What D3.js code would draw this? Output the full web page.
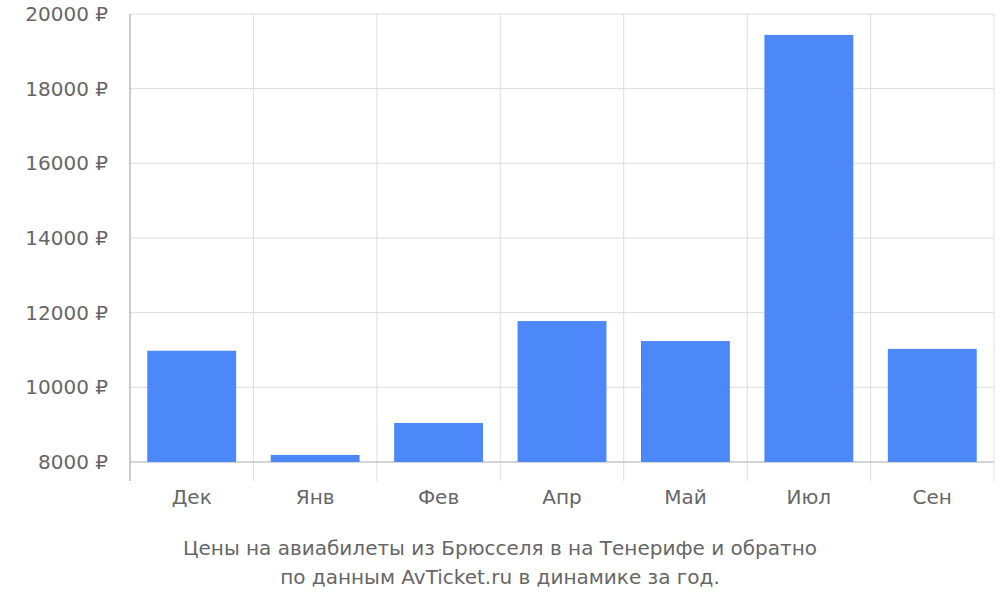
<!DOCTYPE html>
<meta charset="utf-8">
<script src="https://d3js.org/d3.v7.min.js"></script>
<style>body{margin:0;background:#fff}</style>
<svg id="chart" width="1000" height="600"></svg>
<script>
var months = ["Дек", "Янв", "Фев", "Апр", "Май", "Июл", "Сен"]
var prices = [10980, 8190, 9045, 11775, 11240, 19440, 11030]
var yTicks = [8000, 10000, 12000, 14000, 16000, 18000, 20000]
var title = ["Цены на авиабилеты из Брюсселя в на Тенерифе и обратно",
             "по данным AvTicket.ru в динамике за год."]

var svg = d3.select("#chart")
var font = "DejaVu Sans, sans-serif"

var x = d3.scaleBand().domain(months).range([130, 994]).paddingInner(0.28).paddingOuter(0.14)
var y = d3.scaleLinear().domain([8000, 20000]).range([462, 14])
var step = x.step()

// horizontal grid
svg.selectAll(".hg").data(yTicks).enter().append("line")
  .attr("x1", 130).attr("x2", 994)
  .attr("y1", d => y(d)).attr("y2", d => y(d))
  .attr("stroke", "#ddd")

// vertical grid at band boundaries
var bounds = d3.range(months.length + 1).map(i => 130 + i * step)
svg.selectAll(".vg").data(bounds).enter().append("line")
  .attr("x1", d => d).attr("x2", d => d)
  .attr("y1", 14).attr("y2", 481)
  .attr("stroke", (d, i) => i == 0 ? "#999" : "#ddd")

svg.append("line").attr("x1", 130).attr("x2", 994).attr("y1", 462).attr("y2", 462).attr("stroke", "#bbb")

svg.selectAll(".bar").data(months).enter().append("rect")
  .attr("x", d => x(d)).attr("width", x.bandwidth())
  .attr("y", (d, i) => y(prices[i]))
  .attr("height", (d, i) => y(8000) - y(prices[i]))
  .attr("fill", "#4d88f9")

svg.selectAll(".yl").data(yTicks).enter().append("text")
  .attr("x", 108).attr("y", d => y(d) + 7)
  .attr("text-anchor", "end").attr("fill", "#666")
  .style("font-family", font).style("font-size", "20px")
  .text(d => d + " ₽")

svg.selectAll(".xl").data(months).enter().append("text")
  .attr("x", d => x(d) + x.bandwidth() / 2).attr("y", 504)
  .attr("text-anchor", "middle").attr("fill", "#666")
  .style("font-family", font).style("font-size", "20px")
  .text(d => d)

svg.selectAll(".tl").data(title).enter().append("text")
  .attr("x", 500).attr("y", (d, i) => 555 + i * 29)
  .attr("text-anchor", "middle").attr("fill", "#666")
  .style("font-family", font).style("font-size", "20px")
  .text(d => d)
</script>
